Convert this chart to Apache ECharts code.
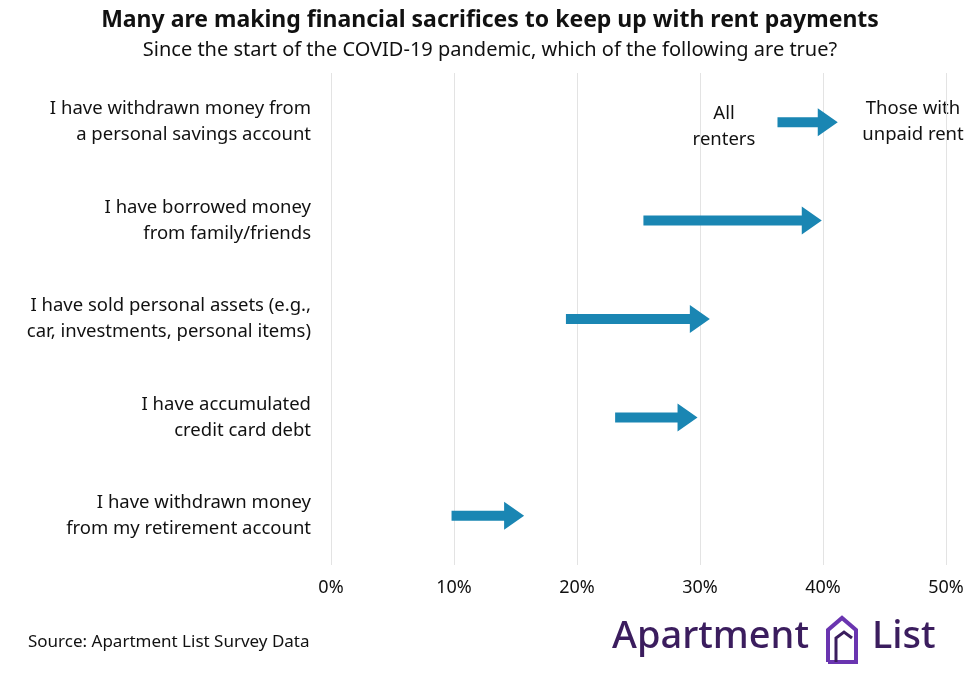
<!DOCTYPE html>
<html><head><meta charset="utf-8">
<script src="https://cdn.jsdelivr.net/npm/echarts@6/dist/echarts.min.js"></script>
<style>html,body{margin:0;padding:0;background:#fff}#c{width:980px;height:685px}</style>
</head><body><div id="c"></div>
<script>
const categories = [
  "I have withdrawn money from\na personal savings account",
  "I have borrowed money\nfrom family/friends",
  "I have sold personal assets (e.g.,\ncar, investments, personal items)",
  "I have accumulated\ncredit card debt",
  "I have withdrawn money\nfrom my retirement account"
];
const allRenters = [36.3, 25.4, 19.1, 23.1, 9.8];
const unpaidRent = [41.2, 39.9, 30.8, 29.8, 15.7];

const chart = echarts.init(document.getElementById('c'));
const F = '"Noto Sans", sans-serif';
chart.setOption({
  backgroundColor: '#fff',
  animation: false,
  title: [
    {text: 'Many are making financial sacrifices to keep up with rent payments', left: 'center', top: 4,
     textStyle: {fontFamily: F, fontSize: 23, fontWeight: 'bold', color: '#111'}},
    {text: 'Since the start of the COVID-19 pandemic, which of the following are true?', left: 'center', top: 35,
     textStyle: {fontFamily: F, fontSize: 20, fontWeight: 'normal', color: '#111'}}
  ],
  grid: {left: 331, right: 34, top: 73, bottom: 120},
  xAxis: {type: 'value', min: 0, max: 50, interval: 10,
    axisLabel: {formatter: v => v + '%', fontFamily: F, fontSize: 18, color: '#111', margin: 14},
    splitLine: {lineStyle: {color: '#e3e3e3', width: 1}},
    axisLine: {show: false}, axisTick: {show: false}},
  yAxis: {type: 'category', data: categories, inverse: true,
    axisLabel: {fontFamily: F, fontSize: 18.5, color: '#111', lineHeight: 26, margin: 20, align: 'right'},
    axisLine: {show: false}, axisTick: {show: false}},
  series: [{
    type: 'custom',
    data: categories.map((c, i) => [allRenters[i], unpaidRent[i], i]),
    encode: {x: [0, 1], y: 2},
    renderItem: function (params, api) {
      const s = api.coord([api.value(0), api.value(2)]);
      const e = api.coord([api.value(1), api.value(2)]);
      const hl = 20, hw = 14, t = 5;
      const bx = e[0] - hl, y = s[1];
      return {type: 'polygon', shape: {points: [
        [s[0], y - t], [bx, y - t], [bx, y - hw], [e[0], y], [bx, y + hw], [bx, y + t], [s[0], y + t]
      ]}, style: {fill: '#1a86b3'}};
    }
  }],
  graphic: [
    {type: 'text', x: 724, y: 101, style: {text: 'All\nrenters', fontFamily: F, fontSize: 18.5, fill: '#111', align: 'center', lineHeight: 26}},
    {type: 'text', x: 913, y: 96, style: {text: 'Those with\nunpaid rent', fontFamily: F, fontSize: 18.5, fill: '#111', align: 'center', lineHeight: 26}},
    {type: 'text', x: 28, y: 634, style: {text: 'Source: Apartment List Survey Data', fontFamily: F, fontSize: 17, fill: '#111'}},
    {type: 'text', x: 612, y: 618, style: {text: 'Apartment', fontFamily: F, fontSize: 38, fontWeight: 500, fill: '#3b1d5e'}},
    {type: 'polyline', shape: {points: [[828,662],[828,630],[842,618],[856,630],[856,662],[828,662]]}, style: {stroke: '#6a35b0', lineWidth: 4, fill: 'none'}},
    {type: 'polyline', shape: {points: [[836,662],[836,638],[844,632],[852,638]]}, style: {stroke: '#3b1d5e', lineWidth: 3, fill: 'none'}},
    {type: 'text', x: 872, y: 618, style: {text: 'List', fontFamily: F, fontSize: 38, fontWeight: 500, fill: '#3b1d5e'}}
  ]
});
</script></body></html>
